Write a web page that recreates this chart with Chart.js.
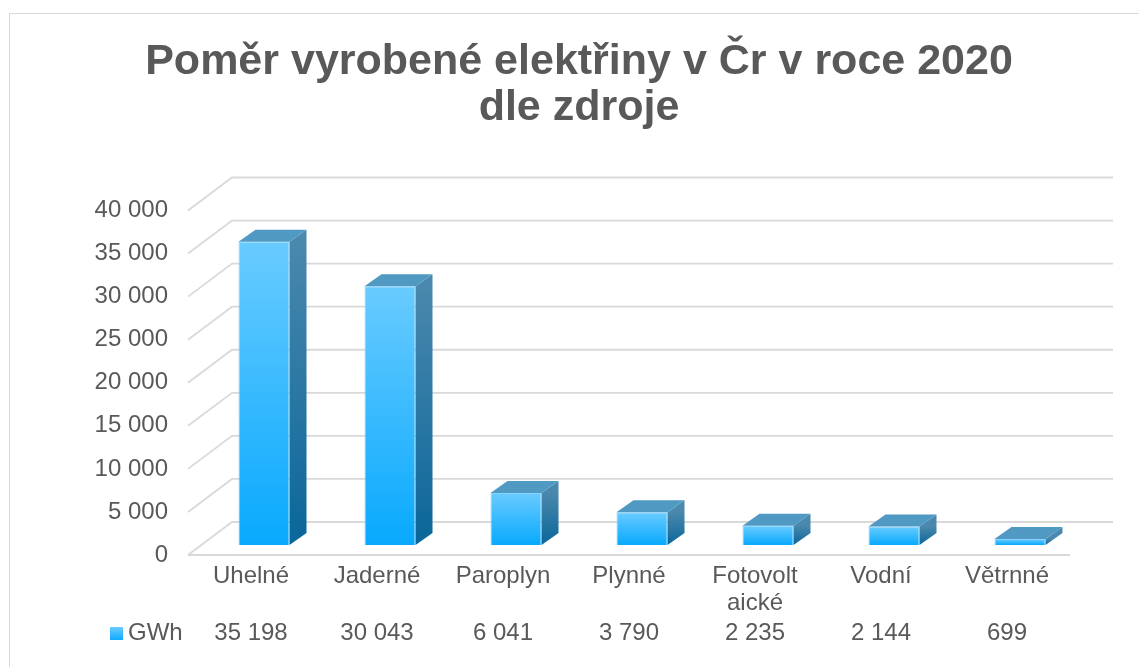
<!DOCTYPE html>
<html>
<head>
<meta charset="utf-8">
<script src="https://cdn.jsdelivr.net/npm/chart.js@4"></script>
<style>
html,body{margin:0;padding:0;background:#fff;overflow:hidden}
#wrap{position:relative;width:1139px;height:667px}
#frame{position:absolute;left:9px;top:13px;width:1200px;height:700px;border:1px solid #d9d9d9;box-sizing:border-box;pointer-events:none}
</style>
</head>
<body>
<div id="wrap"><canvas id="c" width="1139" height="667"></canvas><div id="frame"></div></div>
<script>
// data
const categories=['Uhelné','Jaderné','Paroplyn','Plynné',['Fotovolt','aické'],'Vodní','Větrnné'];
const gwh=[35198,30043,6041,3790,2235,2144,699];
const yTickLabels=['0','5 000','10 000','15 000','20 000','25 000','30 000','35 000','40 000'];
const seriesName='GWh';

const textCol='#595959', font='"Liberation Sans", Arial, sans-serif';

function fmt(n){ return String(n).replace(/\B(?=(\d{3})+(?!\d))/g,' '); }

// 3d look: wall / floor offsets relative to the chart area, bar depth
const depth={dx:17,dy:12};
const wall={frontDx:-13,frontDy:10,backDx:31,backDy:-23,rightDx:30};

const box3d={
    id:'box3d',
    beforeDatasetsDraw(chart){
        const {ctx,chartArea:a,scales:{y}}=chart;
        ctx.save(); ctx.strokeStyle='#d9d9d9'; ctx.lineWidth=1.8;
        y.ticks.forEach(t=>{
            const p=y.getPixelForValue(t.value);
            ctx.beginPath();
            ctx.moveTo(a.left+wall.frontDx,p+wall.frontDy);
            ctx.lineTo(a.left+wall.backDx,p+wall.backDy);
            ctx.lineTo(a.right+wall.rightDx,p+wall.backDy);
            ctx.stroke();
        });
        const p0=y.getPixelForValue(0)+wall.frontDy;
        ctx.beginPath(); ctx.moveTo(a.left+wall.frontDx,p0); ctx.lineTo(a.right+wall.frontDx,p0); ctx.stroke();
        ctx.restore();
    },
    afterDatasetsDraw(chart){
        const ctx=chart.ctx;
        ctx.save();
        chart.getDatasetMeta(0).data.forEach(bar=>{
            const {x,y,base,width}=bar.getProps(['x','y','base','width'],true);
            const l=x-width/2, r=x+width/2;
            const g=ctx.createLinearGradient(0,y,0,base);
            g.addColorStop(0,'#4a88ad'); g.addColorStop(1,'#0a6699');
            ctx.fillStyle=g;
            ctx.beginPath();
            ctx.moveTo(r,y); ctx.lineTo(r+depth.dx,y-depth.dy); ctx.lineTo(r+depth.dx,base-depth.dy); ctx.lineTo(r,base);
            ctx.closePath(); ctx.fill();
            ctx.fillStyle='#4f99c3';
            ctx.beginPath();
            ctx.moveTo(l,y); ctx.lineTo(l+depth.dx,y-depth.dy); ctx.lineTo(r+depth.dx,y-depth.dy); ctx.lineTo(r,y);
            ctx.closePath(); ctx.fill();
        });
        ctx.restore();
    },
    afterDraw(chart){
        // data table row under the category labels
        const {ctx,scales:{x}}=chart;
        const rowY=633;
        ctx.save();
        ctx.font='24px '+font; ctx.fillStyle=textCol; ctx.textBaseline='middle'; ctx.textAlign='center';
        gwh.forEach((v,i)=>ctx.fillText(fmt(v),x.getPixelForTick(i)+wall.frontDx,rowY));
        const g=ctx.createLinearGradient(0,627,0,640);
        g.addColorStop(0,'#69cbff'); g.addColorStop(1,'#10aaff');
        ctx.fillStyle=g; ctx.fillRect(110,627,13,13);
        ctx.fillStyle=textCol; ctx.textAlign='left';
        ctx.fillText(seriesName,128,rowY);
        ctx.restore();
    }
};

function frontFill(c){
    const chart=c.chart;
    if(!chart.chartArea || c.raw===undefined) return '#33bbff';
    const y=chart.scales.y;
    const top=y.getPixelForValue(c.raw), bot=y.getPixelForValue(0);
    const g=chart.ctx.createLinearGradient(0,top,0,bot);
    g.addColorStop(0,'#69cbff'); g.addColorStop(1,'#08a9fd');
    return g;
}

new Chart(document.getElementById('c'),{
    type:'bar',
    data:{labels:categories,datasets:[{label:seriesName,data:gwh,backgroundColor:frontFill,borderColor:'#86d6ff',borderWidth:1,barPercentage:0.405,categoryPercentage:1}]},
    options:{
        responsive:false, animation:false,
        layout:{padding:{left:75,right:56,top:0,bottom:0}},
        plugins:{
            legend:{display:false}, tooltip:{enabled:false},
            title:{display:true,text:['Poměr vyrobené elektřiny v Čr v roce 2020','dle zdroje'],color:textCol,
                font:{family:font,size:43,weight:'bold',lineHeight:1.07},padding:{top:39,bottom:69.5}}
        },
        scales:{
            x:{grid:{display:false,drawTicks:false},border:{display:false},
               ticks:{color:textCol,font:{family:font,size:24,lineHeight:1.11},padding:18,labelOffset:wall.frontDx,maxRotation:0,autoSkip:false},
               afterFit(s){ s.height=122; }},
            y:{min:0,max:40000,grid:{display:false,drawTicks:false},border:{display:false},
               ticks:{stepSize:5000,color:textCol,font:{family:font,size:24},padding:33,labelOffset:wall.frontDy,callback:(v,i)=>yTickLabels[i]},
               afterFit(s){ s.width=126; }}
        }
    },
    plugins:[box3d]
});
</script>
</body>
</html>
